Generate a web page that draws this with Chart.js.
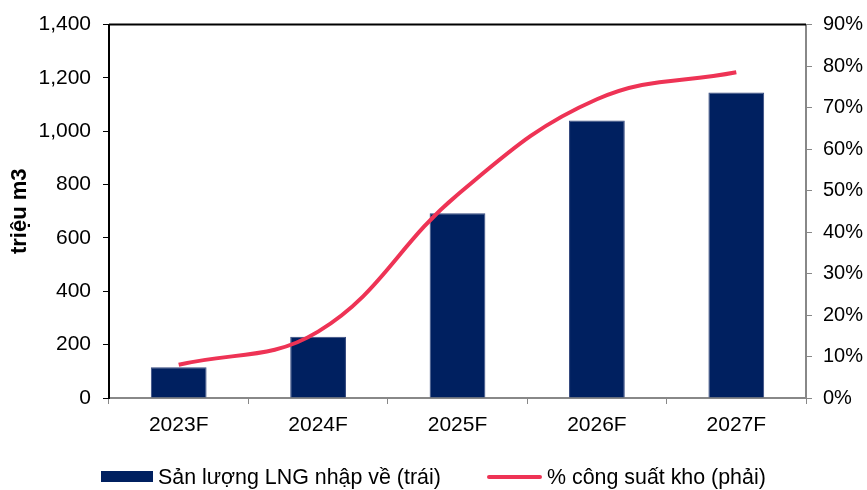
<!DOCTYPE html>
<html>
<head>
<meta charset="utf-8">
<script src="https://cdn.jsdelivr.net/npm/chart.js@4"></script>
<style>
  body { margin: 0; background: #fff; }
  #wrap { position: relative; width: 867px; height: 490px; font-family: "Liberation Sans", Arial, sans-serif; }
  #legend { position: absolute; left: 0; top: 466px; height: 22px; width: 867px; font-size: 21.4px; color: #000; }
  .item { position: absolute; top: 0; height: 22px; line-height: 22px; white-space: nowrap; }
  .swatch { position: absolute; }
</style>
</head>
<body>
<div id="wrap">
  <canvas id="lngChart" width="867" height="490"></canvas>
  <div id="legend"></div>
</div>
<script>
// data
const years = ["2023F", "2024F", "2025F", "2026F", "2027F"];
const importVolume = [115, 230, 693, 1040, 1145];   // triệu m3
const storageUse = [8, 16, 49, 72, 78.5];           // % công suất kho
const leftTicks = [0, 200, 400, 600, 800, 1000, 1200, 1400];
const rightTicks = [0, 10, 20, 30, 40, 50, 60, 70, 80, 90];

const barLabel = "Sản lượng LNG nhập về (trái)";
const lineLabel = "% công suất kho (phải)";
const navy = "#002060";
const red = "#EE3355";

const FONT = "'Liberation Sans', Arial, sans-serif";

// top frame line of the plot
const topBorder = {
    id: "topBorder",
    afterDraw(chart) {
        const { ctx, chartArea } = chart;
        ctx.save();
        ctx.strokeStyle = "#000";
        ctx.lineWidth = 2;
        ctx.beginPath();
        ctx.moveTo(chartArea.left, chartArea.top);
        ctx.lineTo(chartArea.right, chartArea.top);
        ctx.stroke();
        ctx.restore();
    }
};

new Chart(document.getElementById("lngChart"), {
    data: {
        labels: years,
        datasets: [
            {
                type: "line",
                label: lineLabel,
                data: storageUse,
                yAxisID: "y1",
                borderColor: red,
                borderWidth: 4,
                pointRadius: 0,
                tension: 0.4,
                fill: false,
                order: 0
            },
            {
                type: "bar",
                label: barLabel,
                data: importVolume,
                yAxisID: "y",
                backgroundColor: navy,
                borderColor: "#34487e",
                borderWidth: 1,
                categoryPercentage: 1,
                barPercentage: 0.4,
                order: 1
            }
        ]
    },
    options: {
        responsive: false,
        animation: false,
        layout: { padding: { top: 21, left: 0, right: 0, bottom: 0 } },
        plugins: {
            legend: { display: false },
            tooltip: { enabled: false }
        },
        scales: {
            x: {
                offset: true,
                grid: {
                    offset: true,
                    drawOnChartArea: false,
                    drawTicks: true,
                    tickLength: 6,
                    tickColor: "#888",
                    tickWidth: 1
                },
                border: { color: "#888", width: 2 },
                ticks: { color: "#000", padding: 9, font: { family: FONT, size: 21 } },
                afterFit(scale) { scale.height = 92; }
            },
            y: {
                position: "left",
                min: 0,
                max: 1400,
                afterBuildTicks(scale) { scale.ticks = leftTicks.map(v => ({ value: v })); },
                grid: {
                    drawOnChartArea: false,
                    drawTicks: true,
                    tickLength: 6,
                    tickColor: "#000",
                    tickWidth: 1
                },
                border: { color: "#000", width: 2 },
                ticks: {
                    color: "#000",
                    padding: 12,
                    font: { family: FONT, size: 21 },
                    callback: v => v.toLocaleString("en-US")
                },
                title: {
                    display: true,
                    text: "triệu m3",
                    color: "#000",
                    font: { family: FONT, size: 22, weight: "bold" },
                    padding: { top: 7, bottom: 0 }
                },
                afterFit(scale) { scale.width = 109; }
            },
            y1: {
                position: "right",
                min: 0,
                max: 90,
                afterBuildTicks(scale) { scale.ticks = rightTicks.map(v => ({ value: v })); },
                grid: {
                    drawOnChartArea: false,
                    drawTicks: true,
                    tickLength: 6,
                    tickColor: "#888",
                    tickWidth: 1
                },
                border: { color: "#888", width: 2 },
                ticks: {
                    color: "#000",
                    padding: 11,
                    font: { family: FONT, size: 20 },
                    callback: v => v + "%"
                },
                afterFit(scale) { scale.width = 61; }
            }
        }
    },
    plugins: [topBorder]
});

// legend below the chart
const legend = document.getElementById("legend");
legend.innerHTML =
    '<div class="item" style="left:101px">' +
      '<span class="swatch" style="left:0;top:5px;width:52px;height:11px;background:' + navy + '"></span>' +
      '<span style="position:absolute;left:57px">' + barLabel + '</span>' +
    '</div>' +
    '<div class="item" style="left:487px">' +
      '<span class="swatch" style="left:0;top:9px;width:55px;height:4px;background:' + red + ';border-radius:2px"></span>' +
      '<span style="position:absolute;left:60px">' + lineLabel + '</span>' +
    '</div>';
</script>
</body>
</html>
